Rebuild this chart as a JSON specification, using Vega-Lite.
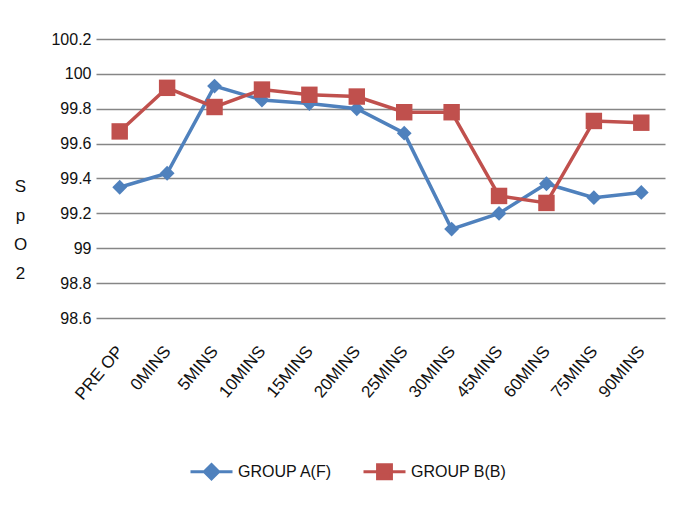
{
  "$schema": "https://vega.github.io/schema/vega-lite/v6.json",
  "autosize": {"type": "none"},
  "padding": {"left": 96, "top": 39, "right": 18, "bottom": 190},
  "width": 569,
  "height": 279,
  "background": "white",
  "config": {
    "view": {"stroke": null},
    "font": "Liberation Sans"
  },
  "data": {
    "values": [
      {"time": "PRE OP", "group": "GROUP A(F)", "spo2": 99.35},
      {"time": "0MINS", "group": "GROUP A(F)", "spo2": 99.43},
      {"time": "5MINS", "group": "GROUP A(F)", "spo2": 99.93},
      {"time": "10MINS", "group": "GROUP A(F)", "spo2": 99.85},
      {"time": "15MINS", "group": "GROUP A(F)", "spo2": 99.83},
      {"time": "20MINS", "group": "GROUP A(F)", "spo2": 99.8},
      {"time": "25MINS", "group": "GROUP A(F)", "spo2": 99.66},
      {"time": "30MINS", "group": "GROUP A(F)", "spo2": 99.11},
      {"time": "45MINS", "group": "GROUP A(F)", "spo2": 99.2},
      {"time": "60MINS", "group": "GROUP A(F)", "spo2": 99.37},
      {"time": "75MINS", "group": "GROUP A(F)", "spo2": 99.29},
      {"time": "90MINS", "group": "GROUP A(F)", "spo2": 99.32},
      {"time": "PRE OP", "group": "GROUP B(B)", "spo2": 99.67},
      {"time": "0MINS", "group": "GROUP B(B)", "spo2": 99.92},
      {"time": "5MINS", "group": "GROUP B(B)", "spo2": 99.81},
      {"time": "10MINS", "group": "GROUP B(B)", "spo2": 99.91},
      {"time": "15MINS", "group": "GROUP B(B)", "spo2": 99.88},
      {"time": "20MINS", "group": "GROUP B(B)", "spo2": 99.87},
      {"time": "25MINS", "group": "GROUP B(B)", "spo2": 99.78},
      {"time": "30MINS", "group": "GROUP B(B)", "spo2": 99.78},
      {"time": "45MINS", "group": "GROUP B(B)", "spo2": 99.3},
      {"time": "60MINS", "group": "GROUP B(B)", "spo2": 99.26},
      {"time": "75MINS", "group": "GROUP B(B)", "spo2": 99.73},
      {"time": "90MINS", "group": "GROUP B(B)", "spo2": 99.72}
    ]
  },
  "encoding": {
    "x": {
      "field": "time",
      "type": "ordinal",
      "sort": ["PRE OP", "0MINS", "5MINS", "10MINS", "15MINS", "20MINS", "25MINS", "30MINS", "45MINS", "60MINS", "75MINS", "90MINS"],
      "scale": {"type": "point", "padding": 0.5},
      "axis": {
        "title": null,
        "domain": false,
        "ticks": false,
        "grid": false,
        "labelAngle": -50,
        "labelAlign": "right",
        "labelBaseline": "middle",
        "labelPadding": 30,
        "labelFontSize": 17,
        "labelColor": "#111111"
      }
    },
    "y": {
      "field": "spo2",
      "type": "quantitative",
      "scale": {"domain": [98.6, 100.2], "nice": false, "zero": false},
      "axis": {
        "values": [98.6, 98.8, 99, 99.2, 99.4, 99.6, 99.8, 100, 100.2],
        "format": "~g",
        "domain": false,
        "ticks": false,
        "grid": true,
        "gridColor": "#868686",
        "gridWidth": 1.5,
        "labelPadding": 5,
        "labelFontSize": 16,
        "labelColor": "#111111",
        "title": ["S", "p", "O", "2"],
        "titleAngle": 0,
        "titleAlign": "center",
        "titleBaseline": "top",
        "titleX": -76,
        "titleY": 139,
        "titleLineHeight": 29,
        "titleFontSize": 17,
        "titleFontWeight": "normal",
        "titleColor": "#111111"
      }
    },
    "color": {
      "field": "group",
      "type": "nominal",
      "scale": {"domain": ["GROUP A(F)", "GROUP B(B)"], "range": ["#4F81BD", "#C0504D"]},
      "legend": {
        "title": null,
        "orient": "none",
        "legendX": 93,
        "legendY": 410,
        "direction": "horizontal",
        "symbolSize": 1764,
        "symbolStrokeWidth": 3,
        "labelFontSize": 16,
        "labelColor": "#111111",
        "labelOffset": 4,
        "columnPadding": 24,
        "encode": {
          "symbols": {
            "update": {
              "shape": {"signal": "datum.value === 'GROUP A(F)' ? 'M-1,0H1M0,-0.34L0.34,0L0,0.34L-0.34,0Z' : 'M-1,0H1M-0.33,-0.33H0.33V0.33H-0.33Z'"}
            }
          }
        }
      }
    }
  },
  "layer": [
    {
      "mark": {"type": "line", "strokeWidth": 3.5}
    },
    {
      "transform": [{"filter": "datum.group === 'GROUP A(F)'"}],
      "mark": {"type": "point", "filled": true, "opacity": 1, "shape": "diamond", "size": 220}
    },
    {
      "transform": [{"filter": "datum.group === 'GROUP B(B)'"}],
      "mark": {"type": "point", "filled": true, "opacity": 1, "shape": "square", "size": 270}
    }
  ]
}
